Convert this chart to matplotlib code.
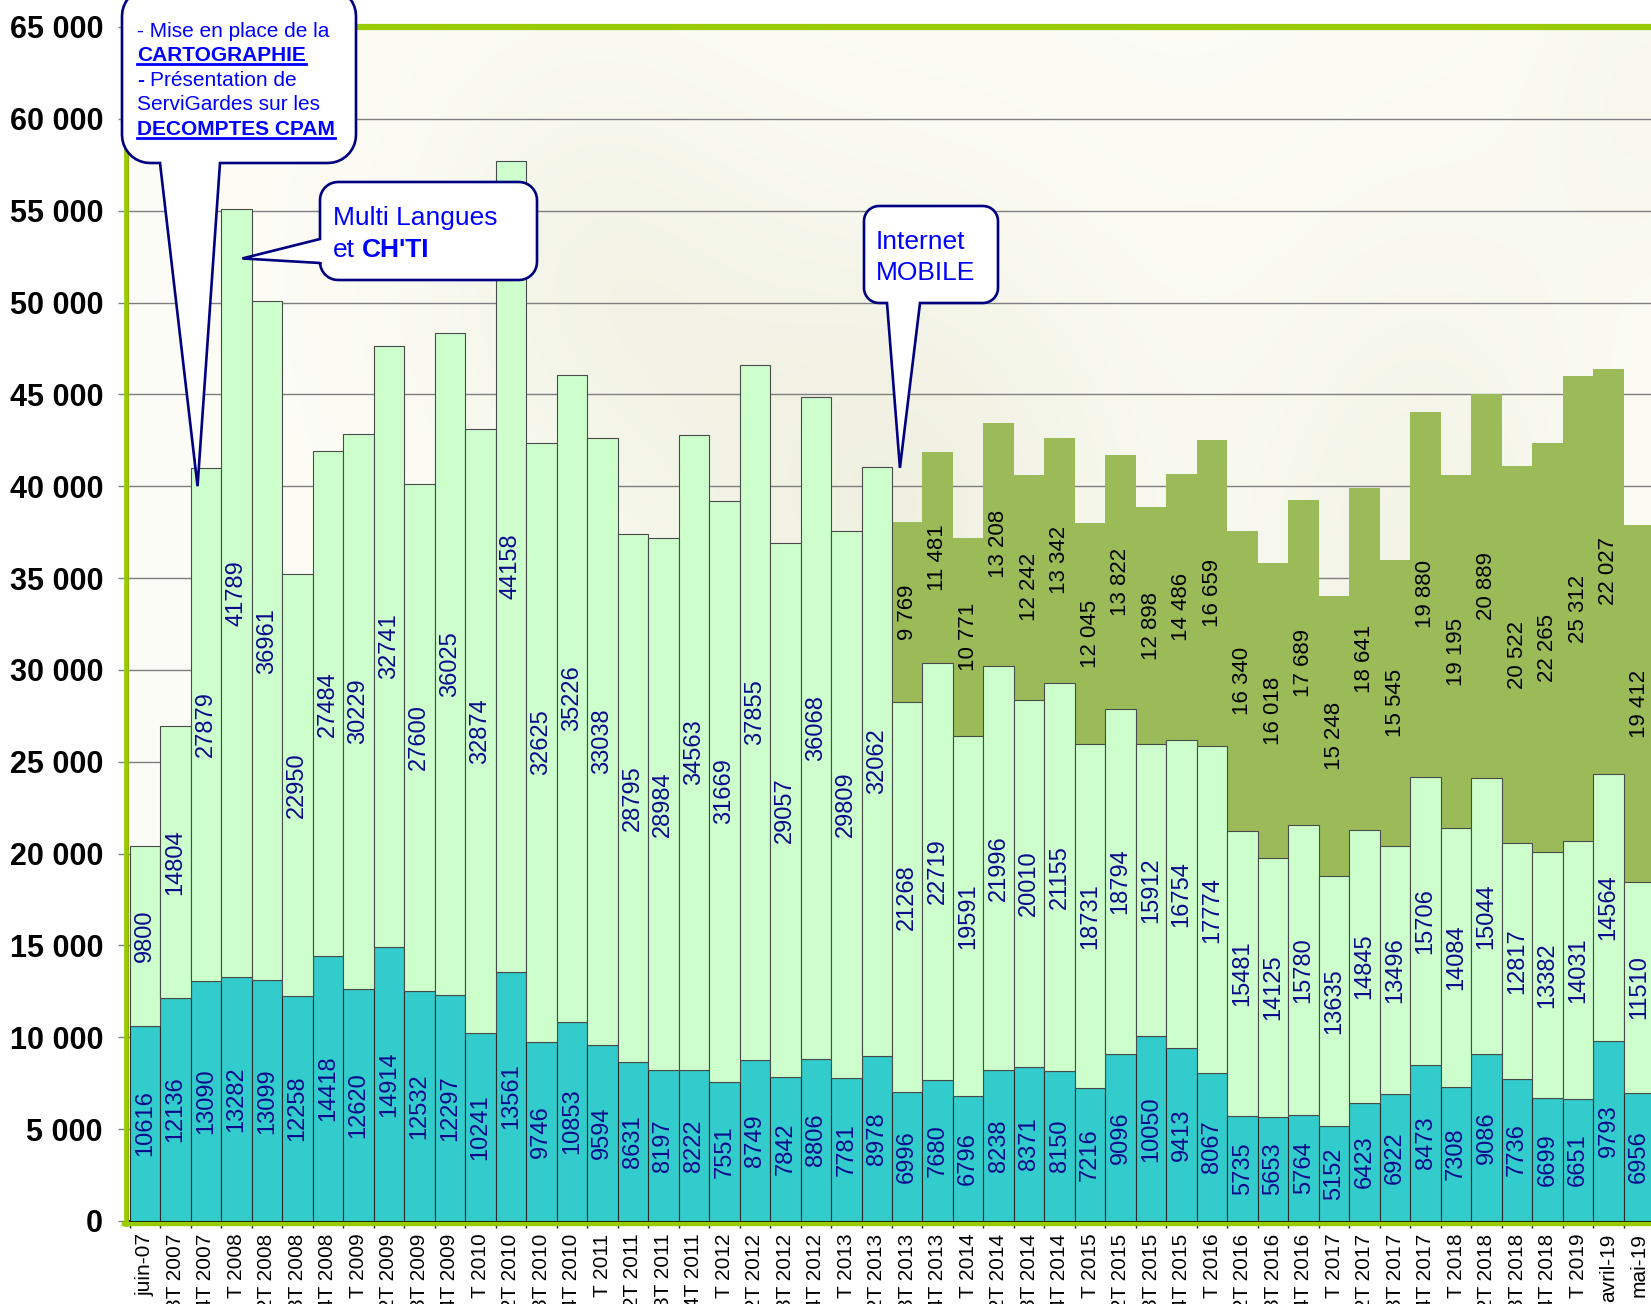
import matplotlib
matplotlib.use('Agg')
import matplotlib.pyplot as plt
import numpy as np
from matplotlib.patches import Polygon
from matplotlib.lines import Line2D

plt.rcParams['font.family'] = ['Liberation Sans', 'DejaVu Sans']

# ---------------- data ----------------
periods = ["juin-07", "3T 2007", "4T 2007",
           "1 T 2008", "2T 2008", "3T 2008", "4T 2008",
           "1 T 2009", "2T 2009", "3T 2009", "4T 2009",
           "1 T 2010", "2T 2010", "3T 2010", "4T 2010",
           "1 T 2011", "2T 2011", "3T 2011", "4T 2011",
           "1 T 2012", "2T 2012", "3T 2012", "4T 2012",
           "1 T 2013", "2T 2013", "3T 2013", "4T 2013",
           "1 T 2014", "2T 2014", "3T 2014", "4T 2014",
           "1 T 2015", "2T 2015", "3T 2015", "4T 2015",
           "1 T 2016", "2T 2016", "3T 2016", "4T 2016",
           "1 T 2017", "2T 2017", "3T 2017", "4T 2017",
           "1 T 2018", "2T 2018", "3T 2018", "4T 2018",
           "1 T 2019", "avril-19", "mai-19"]

series_teal = [10616, 12136, 13090, 13282, 13099, 12258, 14418, 12620, 14914, 12532,
               12297, 10241, 13561, 9746, 10853, 9594, 8631, 8197, 8222, 7551,
               8749, 7842, 8806, 7781, 8978, 6996, 7680, 6796, 8238, 8371,
               8150, 7216, 9096, 10050, 9413, 8067, 5735, 5653, 5764, 5152,
               6423, 6922, 8473, 7308, 9086, 7736, 6699, 6651, 9793, 6956]

series_light = [9800, 14804, 27879, 41789, 36961, 22950, 27484, 30229, 32741, 27600,
                36025, 32874, 44158, 32625, 35226, 33038, 28795, 28984, 34563, 31669,
                37855, 29057, 36068, 29809, 32062, 21268, 22719, 19591, 21996, 20010,
                21155, 18731, 18794, 15912, 16754, 17774, 15481, 14125, 15780, 13635,
                14845, 13496, 15706, 14084, 15044, 12817, 13382, 14031, 14564, 11510]

mobile_start = 25
series_mobile = [9769, 11481, 10771, 13208, 12242, 13342, 12045, 13822, 12898, 14486,
                 16659, 16340, 16018, 17689, 15248, 18641, 15545, 19880, 19195, 20889,
                 20522, 22265, 25312, 22027, 19412]

y_ticks = list(range(0, 65001, 5000))

# ---------------- figure ----------------
W, H = 1651, 1304
fig = plt.figure(figsize=(W / 100, H / 100), dpi=100)
ax_left, ax_right_w = 128, 1528
ax_top, ax_bot = 27, 1221
ax = fig.add_axes([ax_left / W, (H - ax_bot) / H, ax_right_w / W, (ax_bot - ax_top) / H])

n = len(periods)
x = np.arange(n)
xlo, xhi = -0.55, 49.55
ax.set_xlim(xlo, xhi)
ax.set_ylim(0, 65000)

# background "photo" wash
ny, nx = 120, 400
yy, xx = np.mgrid[0:1:ny * 1j, 0:1:nx * 1j]
d = (0.05 * np.exp(-((xx - 0.5) / 0.16) ** 2 - ((yy - 0.6) / 0.25) ** 2)
     + 0.035 * np.exp(-((xx - 0.85) / 0.12) ** 2 - ((yy - 0.55) / 0.3) ** 2)
     + 0.03 * np.exp(-((xx - 0.3) / 0.12) ** 2 - ((yy - 0.8) / 0.2) ** 2)
     + 0.02 * np.exp(-((xx - 1.0) / 0.08) ** 2 - ((yy - 0.95) / 0.15) ** 2))
img = np.zeros((ny, nx, 3))
img[..., 0] = 0.99 - d * 1.0
img[..., 1] = 0.99 - d * 0.9
img[..., 2] = 0.965 - d * 1.6
ax.imshow(np.clip(img, 0, 1), extent=(xlo, xhi, 0, 65000), aspect='auto',
          origin='lower', zorder=0, interpolation='bicubic')

for yv in y_ticks[1:-1]:
    ax.axhline(yv, color='#7f7f7f', lw=1.0, zorder=1)

teal = np.array(series_teal)
light = np.array(series_light)
mob_x = x[mobile_start:]
mob_bottom = teal[mobile_start:] + light[mobile_start:]
ax.bar(mob_x, series_mobile, bottom=mob_bottom, width=1.0, color='#9BBB59',
       linewidth=0, zorder=2)
ax.bar(x, teal, width=1.0, color='#33CCCC', edgecolor='#2a2a2a', linewidth=0.8, zorder=3)
ax.bar(x, light, bottom=teal, width=1.0, color='#CCFFCC', edgecolor='#4a4a4a',
       linewidth=0.8, zorder=3)

lab_col = '#0a0a8c'
for i in range(n):
    ax.text(x[i], teal[i] / 2, str(teal[i]), rotation=90, ha='center', va='center',
            color=lab_col, fontsize=17, zorder=5)
    ax.text(x[i], teal[i] + light[i] / 2, str(light[i]), rotation=90, ha='center',
            va='center', color=lab_col, fontsize=17, zorder=5)
for j, v in enumerate(series_mobile):
    ax.text(mob_x[j], mob_bottom[j] + v / 2, f"{v:,}".replace(",", " "), rotation=90,
            ha='center', va='center', color='black', fontsize=16, zorder=5)

# axes styling
ax.set_yticks(y_ticks, [f"{v:,}".replace(",", " ") for v in y_ticks],
              fontsize=22, fontweight='bold')
ax.tick_params(axis='y', length=7, width=1, color='#808080', pad=11)
ax.set_xticks(x, periods, rotation=90, fontsize=15)
ax.set_xticks(np.arange(-0.5, n, 1.0), minor=True)
ax.tick_params(axis='x', which='major', length=0, pad=9)
ax.tick_params(axis='x', which='minor', length=5, width=1, color='#202020')
ax.spines['right'].set_visible(False)
ax.spines['top'].set_color('#99CC00')
ax.spines['top'].set_linewidth(4.5)
ax.spines['left'].set_color('black')
ax.spines['left'].set_linewidth(1.2)
ax.spines['bottom'].set_color('black')
ax.spines['bottom'].set_linewidth(1.5)

green = '#99CC00'
fig.add_artist(Line2D([(ax_left - 2.5) / W] * 2, [(H - ax_bot - 3) / H, (H - 150) / H],
                      transform=fig.transFigure, color=green, lw=3.4, zorder=1))
fig.add_artist(Line2D([(ax_left - 4) / W, 1.0], [(H - ax_bot - 3) / H] * 2,
                      transform=fig.transFigure, color=green, lw=3.2, zorder=1))

# ---------------- callouts ----------------
def data_px(xd, yd):
    px, py = ax.transData.transform((xd, yd))
    return px, H - py


def arc(cx, cy, r, a0, a1, k=10):
    ts = np.radians(np.linspace(a0, a1, k))
    return [(cx + r * np.cos(t), cy + r * np.sin(t)) for t in ts]


def callout(x0, y0, x1, y1, r, tip, side, b1, b2):
    pts = []
    pts += arc(x0 + r, y0 + r, r, 180, 270)
    pts += arc(x1 - r, y0 + r, r, 270, 360)
    pts += arc(x1 - r, y1 - r, r, 0, 90)
    if side == 'bottom':
        pts += [(b2, y1), tip, (b1, y1)]
    pts += arc(x0 + r, y1 - r, r, 90, 180)
    if side == 'left':
        pts += [(x0, b2), tip, (x0, b1)]
    verts = [(px / W, 1 - py / H) for px, py in pts]
    fig.add_artist(Polygon(verts, closed=True, transform=fig.transFigure,
                           facecolor='white', edgecolor='#000080', lw=1.9,
                           joinstyle='miter', zorder=10))


callout(122, -12, 356, 163, 28, data_px(1.73, 40000), 'bottom', 160, 220)
callout(320, 182, 537, 280, 18, data_px(3.2, 52400), 'left', 239, 263)
callout(864, 206, 998, 303, 15, data_px(24.76, 41000), 'bottom', 887, 920)

renderer = fig.canvas.get_renderer()
blue = '#0000FF'


def text_line(xs, yb, runs, size):
    cur = xs
    for s, bold, ul, gap in runs:
        cur += gap
        t = fig.text(cur / W, 1 - yb / H, s, fontsize=size,
                     fontweight='bold' if bold else 'normal', color=blue,
                     ha='left', va='baseline', zorder=12)
        bb = t.get_window_extent(renderer)
        if ul:
            fig.add_artist(Line2D([bb.x0 / W, bb.x1 / W], [1 - (yb + 3) / H] * 2,
                                  transform=fig.transFigure, color=blue, lw=2.0,
                                  zorder=12))
        cur = bb.x1


fs1 = 15
sp1 = fs1 * 100 / 72 * 0.278
text_line(137, 37, [("- Mise en place de la", False, False, 0)], fs1)
text_line(137, 61, [("CARTOGRAPHIE", True, True, 0)], fs1)
text_line(137, 86, [("-", True, False, 0), ("Présentation de", False, False, sp1)], fs1)
text_line(137, 110, [("ServiGardes sur les", False, False, 0)], fs1)
text_line(137, 135, [("DECOMPTES CPAM", True, True, 0)], fs1)

fs2 = 19
sp2 = fs2 * 100 / 72 * 0.278
text_line(333, 225, [("Multi Langues", False, False, 0)], fs2)
text_line(333, 257, [("et", False, False, 0), ("CH'TI", True, False, sp2)], fs2)

text_line(876, 249, [("Internet", False, False, 0)], fs2)
text_line(876, 280, [("MOBILE", False, False, 0)], fs2)

fig.savefig('out.png', dpi=100)
